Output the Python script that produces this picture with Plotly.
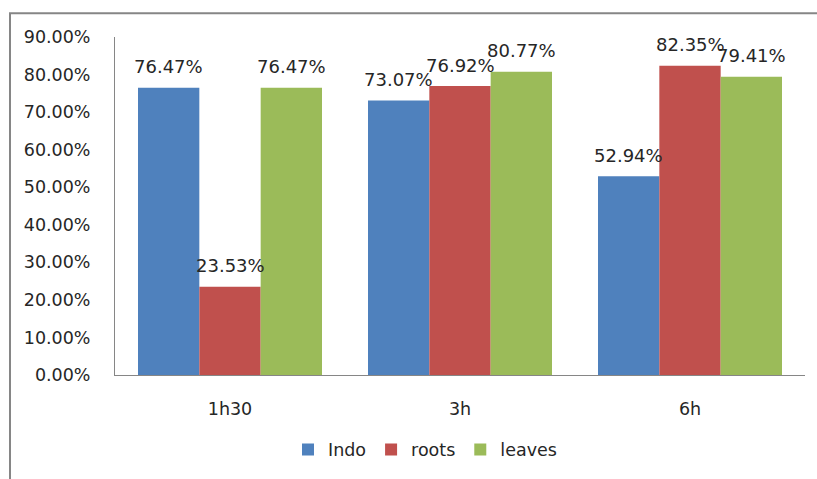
import plotly.graph_objects as go

categories = ["1h30", "3h", "6h"]
indo = [0.7647, 0.7307, 0.5294]
roots = [0.2353, 0.7692, 0.8235]
leaves = [0.7647, 0.8077, 0.7941]
series_names = ["Indo", "roots", "leaves"]
colors = ["#4F81BD", "#C0504D", "#9BBB59"]
y_ticks = [0, 0.1, 0.2, 0.3, 0.4, 0.5, 0.6, 0.7, 0.8, 0.9]

FONT = "DejaVu Sans"
TXT = "#262626"

W, H = 817, 479
L, R, T, B = 115, 12, 37, 102
pw, ph = W - L - R, H - T - B
BARGAP = 0.2

fig = go.Figure()
all_series = [indo, roots, leaves]
for name, vals, col in zip(series_names, all_series, colors):
    fig.add_trace(go.Bar(
        x=categories, y=vals, name=name,
        marker=dict(color=col, line=dict(width=0)),
        cliponaxis=False,
    ))

# data labels above bars (Excel style), offset per series by bar width
cat_px = pw / len(categories)
bar_px = cat_px * (1 - BARGAP) / len(all_series)
annotations = []
for i, vals in enumerate(all_series):
    for c, v in zip(categories, vals):
        annotations.append(dict(
            x=c, y=v, xref="x", yref="y", text=f"{v*100:.2f}%",
            showarrow=False, xanchor="center", yanchor="middle",
            xshift=(i - 1) * bar_px, yshift=21,
            font=dict(family=FONT, size=18, color=TXT)))

fig.update_layout(
    width=W, height=H,
    margin=dict(l=L, r=R, t=T, b=B),
    paper_bgcolor="white", plot_bgcolor="white",
    barmode="group", bargap=BARGAP, bargroupgap=0,
    font=dict(family=FONT, size=17, color=TXT),
    showlegend=True,
    legend=dict(orientation="h", x=(425 - L) / pw, xanchor="center",
                y=(T + ph - 452) / ph, yanchor="middle",
                font=dict(family=FONT, size=17.5, color=TXT),
                itemwidth=30, traceorder="normal"),
    xaxis=dict(showline=True, linecolor="#868686", linewidth=1,
               showgrid=False, ticks="", ticklabelstandoff=18,
               tickfont=dict(family=FONT, size=17.5, color=TXT)),
    yaxis=dict(range=[0, 0.9], tickvals=y_ticks, tickformat=".2%",
               showline=True, linecolor="#868686", linewidth=1,
               showgrid=False, zeroline=False, ticks="", ticklabelstandoff=20,
               tickfont=dict(family=FONT, size=17.5, color=TXT)),
    annotations=annotations,
    shapes=[dict(type="rect", xref="paper", yref="paper",
                 x0=(10 - L) / pw, x1=(830 - L) / pw,
                 y0=(T + ph - 490) / ph, y1=(T + ph - 13) / ph,
                 line=dict(color="#868686", width=2), fillcolor="rgba(0,0,0,0)",
                 layer="below")],
)

fig.write_html("out.html")
